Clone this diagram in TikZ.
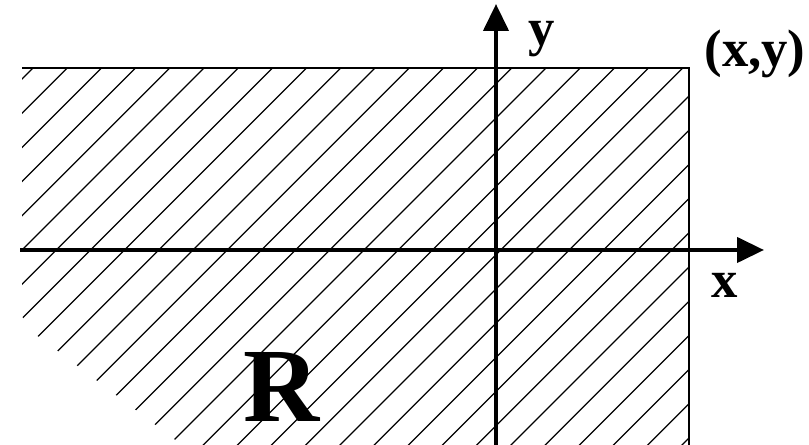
\documentclass[tikz,border=0pt]{standalone}
\usepackage{fontspec}
\setmainfont{Liberation Serif}
\usetikzlibrary{arrows.meta}

\begin{document}
\begin{tikzpicture}[
        x=0.02cm, y=-0.02cm,
        hatch/.style={line width=0.7pt},
        edge/.style={line width=0.9pt},
        axis/.style={line width=2.4pt, -{Triangle[length=0.54cm, width=0.5cm]}},
        lbl/.style={font=\fontsize{30}{30}\selectfont\bfseries, anchor=base, inner sep=0pt}
    ]
        \useasboundingbox (0,0) rectangle (809,445);

        % Region corners
        \coordinate (tl) at (22,68);
        \coordinate (tr) at (689,68);
        \coordinate (br) at (689,445);

        % Hatching
        \begin{scope}
            \clip (tl) -- (tr) -- (br) -- (182,445) -- (42,339) .. controls (30,331) .. (22,316) -- cycle;
            \foreach \k in {0,...,31}
                \draw[hatch] ({101+34.2*\k},0) -- ({101+34.2*\k-500},500);
        \end{scope}

        % Boundary
        \draw[edge] (tl) -- (tr) -- (br);

        % Axes
        \coordinate (xs) at (20,250);
        \coordinate (xe) at (764,250);
        \coordinate (ys) at (496,445);
        \coordinate (ye) at (496,4);
        \draw[axis] (xs) -- (xe);
        \draw[axis] (ys) -- (ye);

        % Labels
        \node[lbl] (ylbl) at (542,46) {y};
        \node[lbl] (xlbl) at (725,298) {x};
        \node[lbl] (pt) at (755,67) {(x,y)};
        \node[lbl, font=\fontsize{60}{60}\selectfont\bfseries] (R) at (282,422) {R};
    \end{tikzpicture}
\end{document}
